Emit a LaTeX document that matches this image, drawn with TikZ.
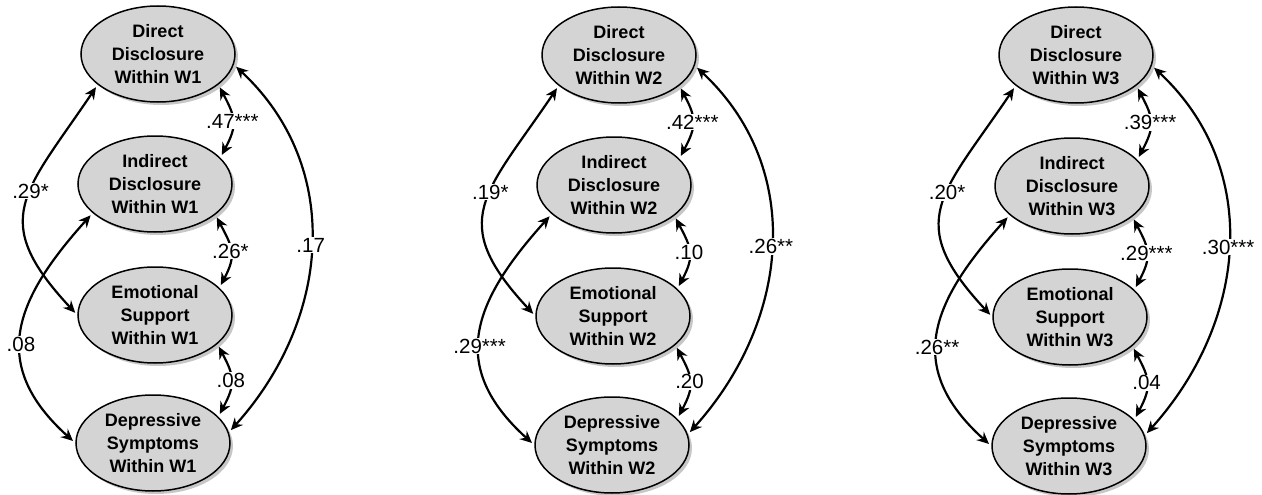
\documentclass[tikz,border=0pt]{standalone}
\usepackage{fontspec}
\setmainfont{Liberation Sans}
\usetikzlibrary{shapes.geometric,arrows.meta,shadows}
\tikzset{
    latent/.style={ellipse,draw,line width=1.5pt,fill=black!17,
        minimum width=154pt,minimum height=96pt,inner sep=0pt,align=center,
        font=\bfseries\fontsize{18}{23}\selectfont,
        drop shadow={shadow xshift=3pt,shadow yshift=-3pt,fill=black!22,opacity=1}},
    cov/.style={line width=2.2pt,shorten <=3pt,shorten >=3pt,
        {Stealth[length=12pt,width=11pt,inset=4pt]}-{Stealth[length=12pt,width=11pt,inset=4pt]}},
    coef/.style={fill=white,inner sep=1pt,font=\fontsize{20.5}{24}\selectfont}
}
\begin{document}
\begin{tikzpicture}[x=1pt,y=1pt]
    \useasboundingbox (0,0) rectangle (1262,-495);
% W1
    \node[latent] (d1) at (158,-54) {Direct\\Disclosure\\Within W1};
    \node[latent] (i1) at (155,-184) {Indirect\\Disclosure\\Within W1};
    \node[latent] (e1) at (155,-315) {Emotional\\Support\\Within W1};
    \node[latent] (s1) at (153,-443) {Depressive\\Symptoms\\Within W1};
    \draw[cov] (d1.-27) to[out=-62,in=62,looseness=1.3] node[coef] {.47***} (i1.22);
    \draw[cov] (i1.-27) to[out=-62,in=62,looseness=1.3] node[coef] {.26*} (e1.23);
    \draw[cov] (e1.-25) to[out=-62,in=62,looseness=1.3] node[coef] {.08} (s1.22);
    \draw[cov] (d1.207) to[out=236,in=133,looseness=1.45] node[coef,pos=0.43] {.29*} (e1.180);
    \draw[cov] (i1.205) to[out=228,in=138,looseness=1.3] node[coef,pos=0.56] {.08} (s1.180);
    \draw[cov] (d1.-8) to[out=-43,in=48,looseness=1.05] node[coef] {.17} (s1.8);
% W2
    \node[latent] (d2) at (619,-55) {Direct\\Disclosure\\Within W2};
    \node[latent] (i2) at (614,-185) {Indirect\\Disclosure\\Within W2};
    \node[latent] (e2) at (613,-316) {Emotional\\Support\\Within W2};
    \node[latent] (s2) at (612,-445) {Depressive\\Symptoms\\Within W2};
    \draw[cov] (d2.-27) to[out=-62,in=62,looseness=1.3] node[coef] {.42***} (i2.22);
    \draw[cov] (i2.-27) to[out=-62,in=62,looseness=1.3] node[coef] {.10} (e2.23);
    \draw[cov] (e2.-25) to[out=-62,in=62,looseness=1.3] node[coef] {.20} (s2.22);
    \draw[cov] (d2.207) to[out=236,in=133,looseness=1.45] node[coef,pos=0.43] {.19*} (e2.180);
    \draw[cov] (i2.205) to[out=228,in=138,looseness=1.3] node[coef,pos=0.56] {.29***} (s2.180);
    \draw[cov] (d2.-8) to[out=-43,in=48,looseness=1.05] node[coef] {.26**} (s2.8);
% W3
    \node[latent] (d3) at (1076,-55) {Direct\\Disclosure\\Within W3};
    \node[latent] (i3) at (1072,-186) {Indirect\\Disclosure\\Within W3};
    \node[latent] (e3) at (1070,-317) {Emotional\\Support\\Within W3};
    \node[latent] (s3) at (1069,-446) {Depressive\\Symptoms\\Within W3};
    \draw[cov] (d3.-27) to[out=-62,in=62,looseness=1.3] node[coef] {.39***} (i3.22);
    \draw[cov] (i3.-27) to[out=-62,in=62,looseness=1.3] node[coef] {.29***} (e3.23);
    \draw[cov] (e3.-25) to[out=-62,in=62,looseness=1.3] node[coef] {.04} (s3.22);
    \draw[cov] (d3.207) to[out=236,in=133,looseness=1.45] node[coef,pos=0.43] {.20*} (e3.180);
    \draw[cov] (i3.205) to[out=228,in=138,looseness=1.3] node[coef,pos=0.56] {.26**} (s3.180);
    \draw[cov] (d3.-8) to[out=-43,in=48,looseness=1.05] node[coef] {.30***} (s3.8);
\end{tikzpicture}
\end{document}
